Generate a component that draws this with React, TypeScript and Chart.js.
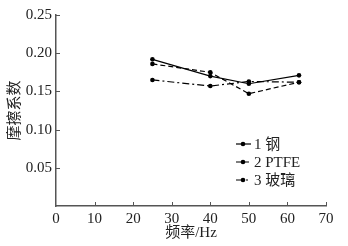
import React, { useEffect, useRef } from "react";
import { Chart, registerables } from "chart.js";

Chart.register(...registerables);

const frequencies = [25, 40, 50, 63];
const steel = [0.192, 0.17, 0.16, 0.171];
const ptfe = [0.186, 0.175, 0.147, 0.162];
const glass = [0.165, 0.157, 0.163, 0.162];
const seriesLabels = ["1 钢", "2 PTFE", "3 玻璃"];
const xTicks = [0, 10, 20, 30, 40, 50, 60, 70];
const yTicks = [0.05, 0.1, 0.15, 0.2, 0.25];
const xTitle = "频率/Hz";
const yTitle = "摩擦系数";

const FONT = '"Liberation Serif", "Times New Roman", "Noto Sans CJK SC", serif';
const AXIS = "#555";
const TEXT = "#222";

const decor = {
  id: "decor",
  afterDraw(chart: any) {
    const ctx = chart.ctx;
    const xs = chart.scales.x;
    const ys = chart.scales.y;
    const area = chart.chartArea;
    ctx.save();
    ctx.strokeStyle = AXIS;
    ctx.lineWidth = 1;
    ctx.setLineDash([]);
    xTicks.forEach((v) => {
      if (v === 0) return;
      const px = Math.round(xs.getPixelForValue(v)) + 0.5;
      ctx.beginPath();
      ctx.moveTo(px, area.bottom);
      ctx.lineTo(px, area.bottom - 4);
      ctx.stroke();
    });
    yTicks.forEach((v) => {
      const py = Math.round(ys.getPixelForValue(v)) + 0.5;
      ctx.beginPath();
      ctx.moveTo(area.left, py);
      ctx.lineTo(area.left + 4, py);
      ctx.stroke();
    });
    // legend inside plot area
    const lx = area.left + 180;
    const ly = area.top + 129;
    chart.data.datasets.forEach((ds: any, i: number) => {
      const y = ly + i * 18;
      ctx.strokeStyle = "#000";
      ctx.lineWidth = 1.2;
      ctx.setLineDash(ds.borderDash || []);
      ctx.beginPath();
      ctx.moveTo(lx, y);
      ctx.lineTo(lx + 15, y);
      ctx.stroke();
      ctx.setLineDash([]);
      ctx.fillStyle = "#000";
      ctx.beginPath();
      ctx.arc(lx + 7, y, 2.3, 0, Math.PI * 2);
      ctx.fill();
      ctx.fillStyle = TEXT;
      ctx.font = `15px ${FONT}`;
      ctx.textBaseline = "middle";
      ctx.textAlign = "left";
      ctx.fillText(ds.label, lx + 18, y + 1);
    });
    ctx.restore();
  },
};

export default function App() {
  const ref = useRef<HTMLCanvasElement | null>(null);
  useEffect(() => {
    document.body.style.margin = "0";
    const canvas = ref.current;
    if (!canvas) return;
    const mk = (vals: number[]) => frequencies.map((f, i) => ({ x: f, y: vals[i] }));
    const base = {
      borderColor: "#000",
      backgroundColor: "#000",
      borderWidth: 1.2,
      pointRadius: 2.3,
      pointBackgroundColor: "#000",
      pointBorderWidth: 0,
      tension: 0,
      fill: false,
    };
    const chart = new Chart(canvas, {
      type: "line",
      data: {
        datasets: [
          { ...base, label: seriesLabels[0], data: mk(steel), borderDash: [] },
          { ...base, label: seriesLabels[1], data: mk(ptfe), borderDash: [5, 3] },
          { ...base, label: seriesLabels[2], data: mk(glass), borderDash: [7, 3, 2, 3] },
        ],
      },
      options: {
        responsive: false,
        animation: false,
        layout: { padding: { top: 15, right: 22, left: 0, bottom: 0 } },
        plugins: { legend: { display: false }, tooltip: { enabled: false } },
        scales: {
          x: {
            type: "linear",
            min: 0,
            max: 70,
            afterFit: (s: any) => {
              s.height = 40;
            },
            afterBuildTicks: (s: any) => {
              s.ticks = xTicks.map((v) => ({ value: v }));
            },
            grid: { display: false, drawTicks: false },
            border: { display: true, color: AXIS, width: 1.5 },
            ticks: {
              padding: 4,
              color: TEXT,
              font: { family: FONT, size: 15 },
              maxRotation: 0,
              callback: (v: any) => String(v),
            },
            title: {
              display: true,
              text: xTitle,
              color: TEXT,
              font: { family: FONT, size: 15 },
              padding: { top: 0, bottom: 4 },
            },
          },
          y: {
            type: "linear",
            min: 0,
            max: 0.25,
            afterFit: (s: any) => {
              s.width = 56;
            },
            afterBuildTicks: (s: any) => {
              s.ticks = yTicks.map((v) => ({ value: v }));
            },
            grid: { display: false, drawTicks: false },
            border: { display: true, color: AXIS, width: 1.5 },
            ticks: {
              padding: 4,
              color: TEXT,
              font: { family: FONT, size: 15 },
              callback: (v: any) => Number(v).toFixed(2),
            },
            title: {
              display: true,
              text: yTitle,
              color: TEXT,
              font: { family: FONT, size: 15 },
              padding: { top: 6, bottom: 0 },
            },
          },
        },
      },
      plugins: [decor],
    } as any);
    return () => chart.destroy();
  }, []);
  return <canvas ref={ref} width={348} height={246} style={{ display: "block" }} />;
}
